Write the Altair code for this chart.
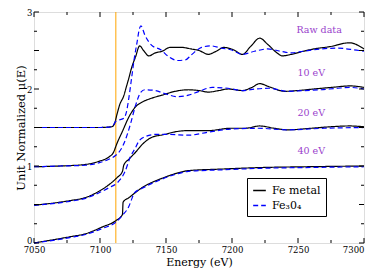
import altair as alt
import pandas as pd

# ---- data ----
raw_metal_E = [7050, 7100, 7106, 7109, 7111, 7113, 7115, 7118, 7120, 7122, 7124, 7127, 7130, 7133, 7137, 7142, 7147, 7153, 7162, 7169, 7175, 7182, 7188, 7194, 7201, 7208, 7214, 7221, 7227, 7234, 7238, 7245, 7254, 7262, 7274, 7289, 7300]
raw_metal_y = [1.50, 1.50, 1.505, 1.51, 1.55, 1.68, 1.80, 1.91, 2.03, 2.15, 2.28, 2.42, 2.56, 2.50, 2.43, 2.47, 2.49, 2.54, 2.54, 2.52, 2.50, 2.45, 2.49, 2.54, 2.51, 2.45, 2.55, 2.66, 2.58, 2.47, 2.43, 2.45, 2.49, 2.52, 2.55, 2.60, 2.52]

raw_oxide_E = [7050, 7100, 7107, 7110, 7112, 7115, 7118, 7120, 7122, 7124, 7126, 7128, 7130, 7131, 7134, 7139, 7146, 7152, 7159, 7165, 7169, 7177, 7184, 7192, 7199, 7208, 7217, 7227, 7237, 7245, 7254, 7267, 7280, 7292, 7300]
raw_oxide_y = [1.50, 1.50, 1.505, 1.53, 1.58, 1.60, 1.62, 1.70, 1.90, 2.15, 2.40, 2.60, 2.79, 2.82, 2.70, 2.57, 2.51, 2.42, 2.37, 2.38, 2.44, 2.54, 2.56, 2.53, 2.51, 2.45, 2.49, 2.52, 2.49, 2.47, 2.49, 2.52, 2.53, 2.51, 2.49]

ev10_metal_E = [7050, 7070, 7089, 7099, 7107, 7110, 7113, 7117, 7122, 7127, 7132, 7139, 7147, 7157, 7167, 7175, 7182, 7190, 7197, 7208, 7215, 7221, 7228, 7240, 7250, 7262, 7275, 7290, 7300]
ev10_metal_y = [0.99, 1.00, 1.02, 1.06, 1.12, 1.17, 1.30, 1.45, 1.64, 1.77, 1.83, 1.88, 1.92, 1.97, 1.99, 1.98, 1.96, 1.98, 2.00, 1.98, 2.02, 2.07, 2.03, 1.97, 1.98, 2.00, 2.02, 2.04, 2.02]

ev10_oxide_E = [7050, 7070, 7089, 7099, 7107, 7112, 7116, 7119, 7123, 7127, 7131, 7134, 7142, 7149, 7159, 7167, 7175, 7185, 7197, 7208, 7218, 7228, 7242, 7255, 7267, 7280, 7290, 7300]
ev10_oxide_y = [0.99, 1.00, 1.01, 1.04, 1.09, 1.14, 1.22, 1.33, 1.54, 1.79, 1.96, 1.99, 1.98, 1.94, 1.90, 1.92, 1.97, 2.02, 2.01, 1.98, 2.00, 2.01, 1.97, 1.98, 1.99, 2.01, 2.02, 2.00]

ev20_metal_E = [7050, 7077, 7089, 7099, 7107, 7113, 7117, 7118, 7122, 7127, 7132, 7139, 7149, 7159, 7168, 7182, 7199, 7210, 7221, 7232, 7242, 7260, 7275, 7289, 7300]
ev20_metal_y = [0.49, 0.55, 0.59, 0.67, 0.76, 0.85, 0.93, 1.01, 1.09, 1.18, 1.28, 1.37, 1.41, 1.45, 1.46, 1.46, 1.49, 1.49, 1.52, 1.49, 1.47, 1.49, 1.51, 1.52, 1.51]

ev20_oxide_E = [7050, 7077, 7089, 7099, 7107, 7113, 7119, 7123, 7127, 7129, 7134, 7142, 7152, 7167, 7182, 7199, 7220, 7242, 7270, 7300]
ev20_oxide_y = [0.49, 0.54, 0.58, 0.65, 0.72, 0.78, 0.93, 1.12, 1.24, 1.31, 1.38, 1.41, 1.41, 1.40, 1.44, 1.48, 1.49, 1.47, 1.49, 1.50]

ev40_metal_E = [7050, 7077, 7089, 7102, 7112, 7117, 7117.5, 7122, 7132, 7147, 7159, 7167, 7192, 7222, 7255, 7300]
ev40_metal_y = [0.00, 0.08, 0.12, 0.21, 0.29, 0.37, 0.53, 0.59, 0.72, 0.84, 0.91, 0.94, 0.96, 0.98, 0.99, 1.00]

ev40_oxide_E = [7050, 7077, 7089, 7102, 7112, 7117, 7122, 7124, 7126, 7132, 7147, 7159, 7167, 7192, 7222, 7255, 7300]
ev40_oxide_y = [0.00, 0.07, 0.11, 0.19, 0.27, 0.36, 0.48, 0.57, 0.65, 0.71, 0.83, 0.90, 0.93, 0.95, 0.97, 0.98, 0.99]

materials = ["Fe metal", "Fe\u20830\u2084"]
series_colors = ["#000000", "#0000ff"]

scan_labels = ["Raw data", "10 eV", "20 eV", "40 eV"]
scan_label_E = [7266, 7260, 7260, 7260]
scan_label_y = [2.77, 2.21, 1.69, 1.20]

edge_energy = [7112]

x_major = [7050, 7100, 7150, 7200, 7250, 7300]
x_minor = [7075, 7125, 7175, 7225, 7275]
y_major = [0, 0.5, 1, 1.5, 2, 2.5, 3]
y_minor = [0.25, 0.75, 1.25, 1.75, 2.25, 2.75]

# ---- build table ----
rows = []
curves = [
    ("Raw data", materials[0], raw_metal_E, raw_metal_y),
    ("Raw data", materials[1], raw_oxide_E, raw_oxide_y),
    ("10 eV", materials[0], ev10_metal_E, ev10_metal_y),
    ("10 eV", materials[1], ev10_oxide_E, ev10_oxide_y),
    ("20 eV", materials[0], ev20_metal_E, ev20_metal_y),
    ("20 eV", materials[1], ev20_oxide_E, ev20_oxide_y),
    ("40 eV", materials[0], ev40_metal_E, ev40_metal_y),
    ("40 eV", materials[1], ev40_oxide_E, ev40_oxide_y),
]
for scan, mat, es, ys in curves:
    for i, (e, y) in enumerate(zip(es, ys)):
        rows.append({"scan": scan, "material": mat, "key": scan + mat, "order": i, "E": e, "mu": y})
df = pd.DataFrame(rows)

W, H = 330, 231
FONT = "DejaVu Serif"

xscale = alt.Scale(domain=[7050, 7300], nice=False, zero=False)
yscale = alt.Scale(domain=[0, 3], nice=False, zero=False)

legend_def = dict(title=None, orient="none", legendX=213, legendY=166,
                  strokeColor="black", fillColor="white", padding=5,
                  labelFont=FONT, labelFontSize=11, labelColor="black",
                  symbolType="stroke", symbolSize=160, symbolStrokeWidth=1.5,
                  rowPadding=2, labelOffset=5, cornerRadius=0)

lines = alt.Chart(df).mark_line(strokeWidth=1.2, interpolate="monotone").encode(
    x=alt.X("E:Q", scale=xscale,
            axis=alt.Axis(title="Energy (eV)", values=x_major, format="d", ticks=False, domain=False,
                          grid=False, labelFont=FONT, labelFontSize=8.5, labelPadding=2.5, labelFlush=False,
                          labelAlign={"condition": {"test": "datum.value >= 7300", "value": "right"}, "value": "center"},
                          titleFont=FONT, titleFontSize=11, titleFontWeight=400, titlePadding=2,
                          labelColor="black", titleColor="black")),
    y=alt.Y("mu:Q", scale=yscale,
            axis=alt.Axis(title="Unit Normalized \u03bc(E)", values=y_major, format="~g", ticks=False,
                          domain=False, grid=False, labelFont=FONT, labelFontSize=8.5, labelPadding=2,
                          labelFlush=False,
                          labelBaseline={"condition": {"test": "datum.value == 0", "value": "alphabetic"}, "value": "middle"},
                          titleFont=FONT, titleFontSize=11.5, titleFontWeight=400, titlePadding=0,
                          labelColor="black", titleColor="black")),
    color=alt.Color("material:N", scale=alt.Scale(domain=materials, range=series_colors),
                    legend=alt.Legend(**legend_def)),
    strokeDash=alt.StrokeDash("material:N", scale=alt.Scale(domain=materials, range=[[1, 0], [5, 3]]),
                              legend=alt.Legend(**legend_def)),
    detail="key:N",
    order="order:Q",
)

edge = alt.Chart(pd.DataFrame({"E": edge_energy})).mark_rule(color="#ffa500", strokeWidth=1).encode(
    x=alt.X("E:Q", scale=xscale)
)

labels = alt.Chart(pd.DataFrame({"t": scan_labels, "E": scan_label_E, "mu": scan_label_y})).mark_text(
    font=FONT, fontSize=9.5, color="#9a3fcc"
).encode(x=alt.X("E:Q", scale=xscale), y=alt.Y("mu:Q", scale=yscale), text="t:N")

xmaj = pd.DataFrame({"v": x_major})
xmin = pd.DataFrame({"v": x_minor})
ymaj = pd.DataFrame({"v": y_major})
ymin = pd.DataFrame({"v": y_minor})

def xticks(d, L):
    bot = alt.Chart(d).mark_rule(color="black", strokeWidth=1).encode(
        x=alt.X("v:Q", scale=xscale), y=alt.value(H), y2=alt.value(H - L))
    top = alt.Chart(d).mark_rule(color="black", strokeWidth=1).encode(
        x=alt.X("v:Q", scale=xscale), y=alt.value(0), y2=alt.value(L))
    return bot + top

def yticks(d, L):
    left = alt.Chart(d).mark_rule(color="black", strokeWidth=1).encode(
        y=alt.Y("v:Q", scale=yscale), x=alt.value(0), x2=alt.value(L))
    right = alt.Chart(d).mark_rule(color="black", strokeWidth=1).encode(
        y=alt.Y("v:Q", scale=yscale), x=alt.value(W), x2=alt.value(W - L))
    return left + right

chart = alt.layer(
    edge, lines, labels,
    xticks(xmaj, 5), xticks(xmin, 3), yticks(ymaj, 5), yticks(ymin, 3),
).properties(
    width=W, height=H,
    autosize=alt.AutoSizeParams(type="none"),
    padding={"left": 26, "top": 4, "right": 2, "bottom": 28},
    background="white",
).configure_view(stroke="black", strokeWidth=1.5).configure(font=FONT).resolve_scale(color="shared")

chart.save("out.html", embed_options={"renderer": "svg", "actions": False})
